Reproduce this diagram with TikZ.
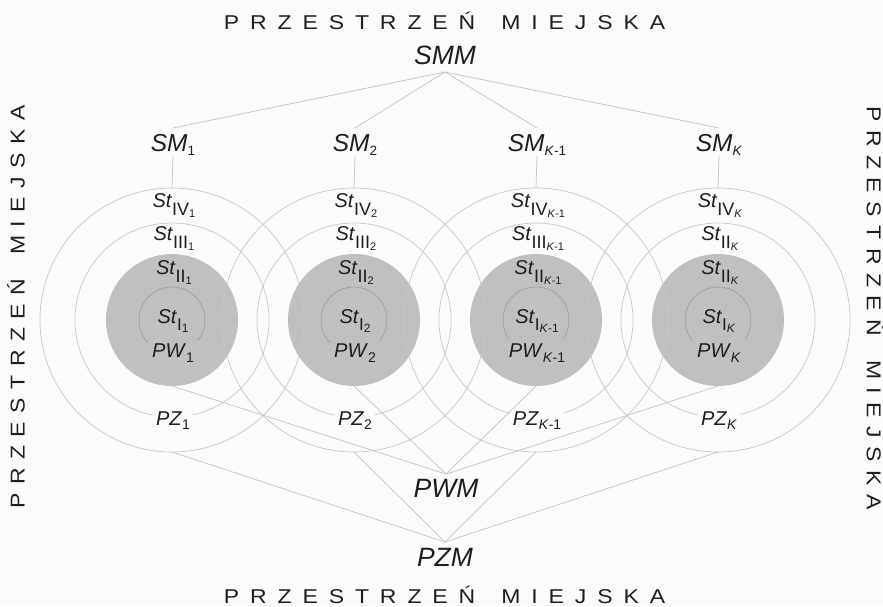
\documentclass[tikz,border=0pt]{standalone}
\usepackage{fontspec}
\setmainfont{Liberation Sans}
\newfontfamily\titlefont[FakeStretch=1.15]{Liberation Sans}
\definecolor{bgc}{RGB}{251,251,252}
\definecolor{txt}{RGB}{30,30,30}
\definecolor{ringc}{RGB}{200,200,200}
\definecolor{innerc}{RGB}{160,160,160}
\definecolor{gcol}{RGB}{192,192,192}
\definecolor{connc}{RGB}{195,195,195}
\newcommand\lsub[3]{\raisebox{-#1}{\fontsize{#2}{#2}\selectfont #3}}
\newcommand\spacedtitle[2]{P\hspace{#1}R\hspace{#1}Z\hspace{#1}E\hspace{#1}S\hspace{#1}T\hspace{#1}R\hspace{#1}Z\hspace{#1}E\hspace{#1}Ń\hspace{#2}M\hspace{#1}I\hspace{#1}E\hspace{#1}J\hspace{#1}S\hspace{#1}K\hspace{#1}A}
\begin{document}
\begin{tikzpicture}[x=1pt,y=-1pt,
  ring/.style={circle, draw=ringc, line width=0.7pt, inner sep=0pt, outer sep=0pt},
  innerring/.style={circle, draw=innerc, line width=0.7pt, inner sep=0pt, outer sep=0pt, minimum size=66pt},
  gdisc/.style={circle, fill=gcol, inner sep=0pt, outer sep=0pt, minimum size=132pt},
  conn/.style={draw=connc, line width=0.7pt},
  lab/.style={anchor=base, inner sep=0pt, text=txt, font=\fontsize{20}{24}\selectfont},
  biglab/.style={anchor=base, inner sep=0pt, text=txt, font=\fontsize{26.5}{30}\selectfont\itshape, text height=19pt, text depth=0pt},
  smlab/.style={anchor=base, inner sep=0pt, outer sep=5pt, text=txt, font=\fontsize{24.5}{28}\selectfont, text height=18pt, text depth=0pt},
  ttl/.style={inner sep=0pt, text=txt, font=\fontsize{20}{22}\titlefont, text height=14.3pt, text depth=0pt}]
\useasboundingbox (0,0) rectangle (883,606);
\fill[bgc] (0,0) rectangle (883,606);

% titles
\node[ttl] (ttop) at (444.5,22) {\spacedtitle{10.9pt}{26pt}};
\node[ttl] (tbot) at (444.5,596) {\spacedtitle{10.9pt}{26pt}};
\node[ttl, rotate=90] (tleft) at (17.5,307) {\spacedtitle{8.5pt}{24pt}};
\node[ttl, rotate=-90] (tright) at (874,308) {\spacedtitle{8.5pt}{24pt}};

% gray discs
\foreach \ci/\cx in {1/172,2/354,3/536,4/718}{
  \node[gdisc] (G\ci) at (\cx,320) {};
}
% rings
\foreach \ci/\cx in {1/172,2/354,3/536,4/718}{
  \node[ring, minimum size=264pt] (O\ci) at (\cx,320) {};
  \node[ring, minimum size=194pt] (M\ci) at (\cx,320) {};
  \node[innerring] (I\ci) at (\cx,320) {};
}

% top / bottom main labels
\node[biglab, outer sep=8pt] (SMM) at (445,64) {SMM};
\node[biglab, outer sep=4pt] (PWM) at (446,497) {PWM};
\node[biglab, outer sep=5pt] (PZM) at (445,566) {PZM};

% circle labels
\foreach \ci/\cx/\sb/\rn in {1/172/1/III,2/354/2/III,3/536/{\textit{K}-1}/III,4/718/\textit{K}/II}{
  \node[smlab] (SM\ci) at (\cx+1,151) {\textit{SM}\lsub{4pt}{13.5pt}{\sb}};
  \node[lab] (SIV\ci) at (\cx+2,207) {\textit{St}\lsub{8pt}{18pt}{IV\lsub{2pt}{11pt}{\sb}}};
  \node[lab] (SIII\ci) at (\cx+2,240) {\textit{St}\lsub{8pt}{18pt}{\rn\lsub{2pt}{11pt}{\sb}}};
  \node[lab] (SII\ci) at (\cx+2,274) {\textit{St}\lsub{8pt}{18pt}{II\lsub{2pt}{11pt}{\sb}}};
  \node[lab] (SI\ci) at (\cx+1,323) {\textit{St}\lsub{7pt}{17pt}{I\lsub{2pt}{12pt}{\sb}}};
  \node[lab, fill=gcol, inner sep=4pt] (PW\ci) at (\cx+1,357) {\textit{PW}\lsub{5pt}{14pt}{\sb}};
  \node[lab, fill=bgc, inner sep=3pt] (PZ\ci) at (\cx+1,425) {\textit{PZ}\lsub{4pt}{14pt}{\sb}};
}

% connectors
\foreach \ci in {1,2,3,4}{
  \draw[conn] (SMM.south) -- (SM\ci.north);
  \draw[conn] (SM\ci.south) -- (O\ci.north);
  \draw[conn] (G\ci.south) -- (PWM.north);
  \draw[conn] (O\ci.south) -- (PZM.north);
}
\end{tikzpicture}
\end{document}
